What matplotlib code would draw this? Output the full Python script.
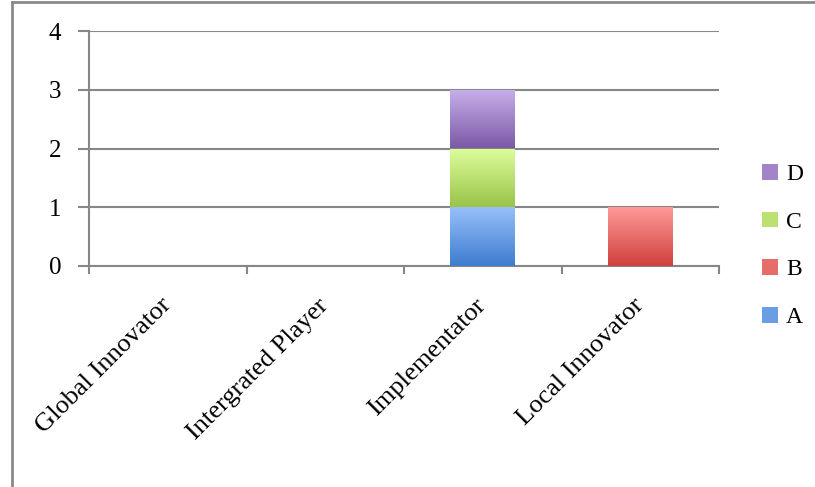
import numpy as np
import matplotlib.pyplot as plt
from matplotlib.colors import LinearSegmentedColormap, to_rgb
from matplotlib.lines import Line2D
from matplotlib.patches import Patch

categories = ["Global Innovator", "Intergrated Player", "Implementator", "Local Innovator"]
series_names = ["A", "B", "C", "D"]
series_values = {
    "A": [0, 0, 1, 0],
    "B": [0, 0, 0, 1],
    "C": [0, 0, 1, 0],
    "D": [0, 0, 1, 0],
}
y_ticks = [0, 1, 2, 3, 4]

# (top colour, bottom colour) of each bar gradient
gradients = {
    "A": ("#97c0fa", "#3d7ccf"),
    "B": ("#fe9a98", "#d0403e"),
    "C": ("#ddfe9c", "#9ac348"),
    "D": ("#c7b0ea", "#7c58a6"),
}

plt.rcParams['font.family'] = ['Liberation Serif', 'DejaVu Serif']

W, H = 815, 487
fig = plt.figure(figsize=(W / 100, H / 100), dpi=100)
ax = fig.add_axes([89 / W, 1 - 266 / H, (719 - 89) / W, (266 - 31) / H])

x = np.arange(len(categories))
bottom = np.zeros(len(categories))
grad = np.linspace(0, 1, 256).reshape(-1, 1)
for name in series_names:
    vals = np.array(series_values[name], dtype=float)
    bars = ax.bar(x, vals, width=0.41, bottom=bottom, color="none",
                  edgecolor="none", zorder=3)
    top_c, bot_c = gradients[name]
    cmap = LinearSegmentedColormap.from_list(name, [bot_c, top_c])
    for b, v in zip(bars, vals):
        if v <= 0:
            continue
        x0, y0 = b.get_x(), b.get_y()
        im = ax.imshow(grad, cmap=cmap, origin="lower", aspect="auto",
                       extent=(x0, x0 + b.get_width(), y0, y0 + b.get_height()),
                       zorder=3, interpolation="bilinear")
        im.set_clip_path(b)
    bottom += vals

ax.set_xlim(-0.5, len(categories) - 0.5)
ax.set_ylim(0, 4)
ax.set_yticks(y_ticks)
ax.yaxis.grid(True, color="#878787", linewidth=1.5, zorder=1)
ax.set_axisbelow(True)

for s in ["top", "right"]:
    ax.spines[s].set_visible(False)
for s in ["left", "bottom"]:
    ax.spines[s].set_color("#878787")
    ax.spines[s].set_linewidth(1.5)
    ax.spines[s].set_zorder(2)

ax.tick_params(axis="y", length=8, width=1.5, color="#878787", labelsize=18, pad=12)
ax.set_xticks(np.arange(len(categories) + 1) - 0.5, minor=False)
ax.set_xticklabels([])
ax.tick_params(axis="x", length=6, width=1.5, color="#878787")
ax.set_xticks(x, minor=True)
ax.set_xticklabels(categories, minor=True, rotation=45, ha="right",
                   va="center", rotation_mode="anchor", fontsize=19)
ax.tick_params(axis="x", which="minor", length=0, pad=26)

handles = [Patch(facecolor=np.mean([np.array(to_rgb(c)) for c in gradients[n]], axis=0),
                 edgecolor="none") for n in series_names]
leg = fig.legend(handles[::-1], series_names[::-1], loc="center left",
                 bbox_to_anchor=(741 / W, 1 - 246 / H), frameon=False,
                 fontsize=17, handlelength=0.65, handleheight=0.65,
                 handletextpad=0.35, labelspacing=1.12)

# outer chart frame (top and left edges only)
fig.add_artist(Line2D([12 / W, 1], [1 - 2 / H, 1 - 2 / H], color="#8a8a8a", linewidth=2))
fig.add_artist(Line2D([12 / W, 12 / W], [0, 1 - 2 / H], color="#8a8a8a", linewidth=2))

fig.savefig("out.png", dpi=100)
